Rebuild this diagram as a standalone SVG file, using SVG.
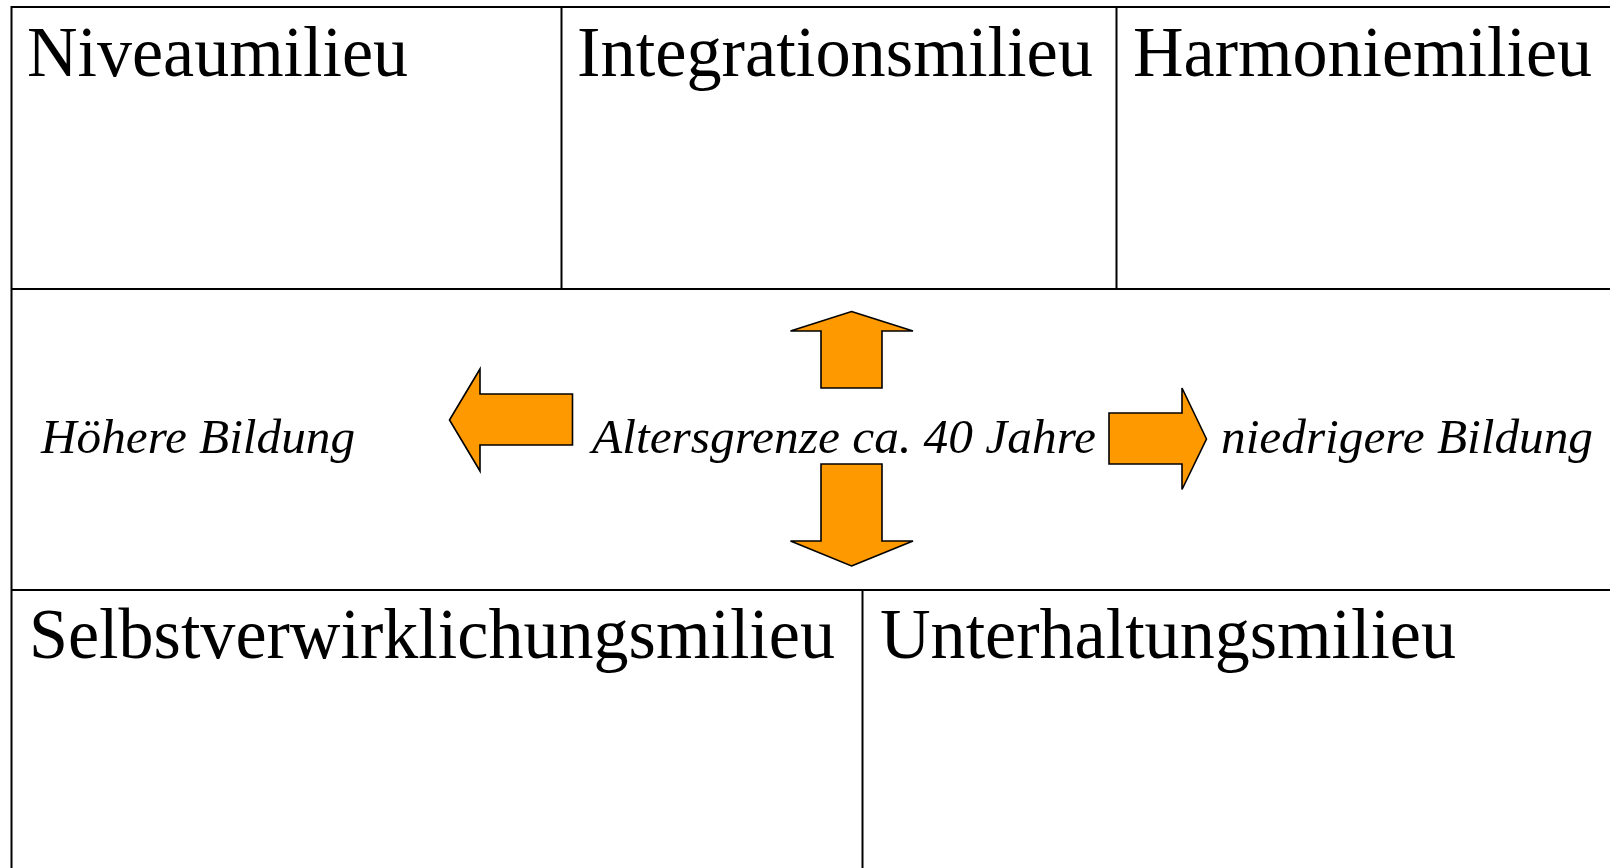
<svg xmlns="http://www.w3.org/2000/svg" width="1610" height="868" viewBox="0 0 1610 868">
<style>
.grid{stroke:#000;stroke-width:2;fill:none}
.head{font-family:"Liberation Serif","Times New Roman",serif;font-size:72px;fill:#000}
.lbl{font-family:"Liberation Serif","Times New Roman",serif;font-size:49px;font-style:italic;fill:#000}
.arr{fill:#FF9900;stroke:#000;stroke-width:1.6;stroke-linejoin:miter}
</style>
<rect width="1610" height="868" fill="#fff"/>
<g id="grid" class="grid">
<line x1="11.5" y1="7" x2="1610" y2="7"/>
<line x1="11.5" y1="6" x2="11.5" y2="868"/>
<line x1="11.5" y1="289" x2="1610" y2="289"/>
<line x1="11.5" y1="590" x2="1610" y2="590"/>
<line x1="561.5" y1="7" x2="561.5" y2="289"/>
<line x1="1116.5" y1="7" x2="1116.5" y2="289"/>
<line x1="862.5" y1="590" x2="862.5" y2="868"/>
</g>
<g id="niveaumilieu"><text class="head" x="27" y="76" textLength="381" lengthAdjust="spacingAndGlyphs">Niveaumilieu</text></g>
<g id="integrationsmilieu"><text class="head" x="577" y="76" textLength="516" lengthAdjust="spacingAndGlyphs">Integrationsmilieu</text></g>
<g id="harmoniemilieu"><text class="head" x="1133" y="76" textLength="459" lengthAdjust="spacingAndGlyphs">Harmoniemilieu</text></g>
<g id="selbstverwirklichungsmilieu"><text class="head" x="29" y="658" textLength="806" lengthAdjust="spacingAndGlyphs">Selbstverwirklichungsmilieu</text></g>
<g id="unterhaltungsmilieu"><text class="head" x="880" y="658" textLength="576" lengthAdjust="spacingAndGlyphs">Unterhaltungsmilieu</text></g>
<g id="hoehere-bildung"><text class="lbl" x="41" y="453" textLength="314" lengthAdjust="spacingAndGlyphs">Höhere Bildung</text></g>
<g id="altersgrenze"><text class="lbl" x="592" y="453" textLength="504" lengthAdjust="spacingAndGlyphs">Altersgrenze ca. 40 Jahre</text></g>
<g id="niedrigere-bildung"><text class="lbl" x="1221" y="453" textLength="372" lengthAdjust="spacingAndGlyphs">niedrigere Bildung</text></g>
<g id="connectors">
<polygon class="arr" points="449.5,420 480,369 480,394 572.5,394 572.5,445 480,445 480,471"/>
<polygon class="arr" points="851.5,311.5 913,331 882,331 882,388 821,388 821,331 790.5,331"/>
<polygon class="arr" points="851.5,566 913,541 882,541 882,464 821,464 821,541 790.5,541"/>
<polygon class="arr" points="1206.5,439 1182,388 1182,413 1109,413 1109,464 1182,464 1182,489.5"/>
</g>
</svg>
